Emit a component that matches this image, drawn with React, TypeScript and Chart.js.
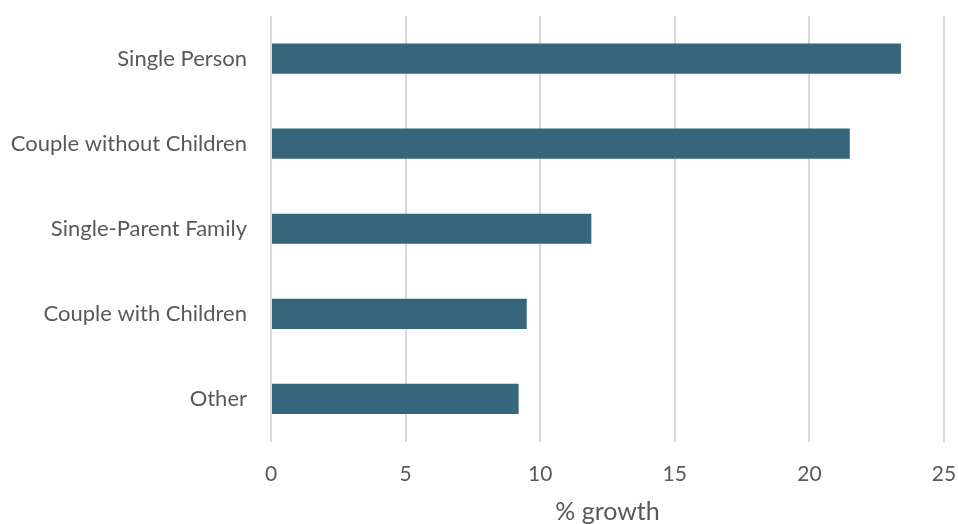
import React, { useEffect, useRef } from "react";
import { Chart, registerables } from "chart.js";

Chart.register(...registerables);

const categories = [
  "Single Person",
  "Couple without Children",
  "Single-Parent Family",
  "Couple with Children",
  "Other",
];
const growth = [23.4, 21.5, 11.9, 9.5, 9.2];
const xMin = 0;
const xMax = 25;
const xStep = 5;
const xTitle = "% growth";

export default function App() {
  const ref = useRef<HTMLCanvasElement | null>(null);
  useEffect(() => {
    document.body.style.margin = "0";
    const ctx = ref.current!;
    const chart = new Chart(ctx, {
      type: "bar",
      data: {
        labels: categories,
        datasets: [
          {
            data: growth,
            backgroundColor: "#36667b",
            borderWidth: 0,
            categoryPercentage: 1,
            barPercentage: 0.355,
          },
        ],
      },
      options: {
        indexAxis: "y",
        animation: false,
        responsive: false,
        maintainAspectRatio: false,
        layout: { padding: { top: 16, right: 14, left: 0, bottom: 0 } },
        plugins: { legend: { display: false }, tooltip: { enabled: false } },
        scales: {
          x: {
            min: xMin,
            max: xMax,
            ticks: {
              stepSize: xStep,
              color: "#595959",
              font: { family: "Lato", size: 21 },
              padding: 20,
            },
            grid: { color: "#d9d9d9", lineWidth: 2, drawTicks: false },
            border: { display: false },
            title: {
              display: true,
              text: xTitle,
              color: "#595959",
              font: { family: "Lato", size: 25 },
              padding: { top: 4, bottom: -3 },
            },
            afterFit: (scale: any) => {
              scale.height = 82.5;
              scale.paddingLeft = 0;
              scale.paddingRight = 0;
            },
          },
          y: {
            ticks: {
              color: "#595959",
              font: { family: "Lato", size: 22 },
              padding: 16,
            },
            grid: { display: false },
            border: { display: false },
            afterFit: (scale: any) => {
              scale.width = 271;
              scale.paddingTop = 0;
              scale.paddingBottom = 0;
            },
          },
        },
      },
    });
    return () => chart.destroy();
  }, []);
  return (
    <div style={{ width: 958, height: 524 }}>
      <canvas ref={ref} width={958} height={524} style={{ display: "block" }} />
    </div>
  );
}
